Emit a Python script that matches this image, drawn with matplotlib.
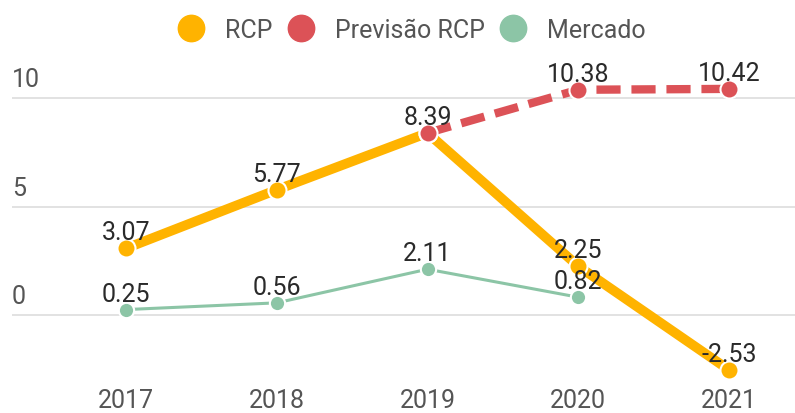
import matplotlib
matplotlib.use("Agg")
import matplotlib.pyplot as plt
from matplotlib.lines import Line2D
import numpy as np

plt.rcParams['font.family'] = ['Roboto', 'DejaVu Sans']

years = [2017, 2018, 2019, 2020, 2021]
rcp = [3.07, 5.77, 8.39, 2.25, -2.53]
prev_years = [2019, 2020, 2021]
prev_rcp = [8.39, 10.38, 10.42]
merc_years = [2017, 2018, 2019, 2020]
mercado = [0.25, 0.56, 2.11, 0.82]
yticks = [0, 5, 10]

c_rcp = '#FFB300'
c_prev = '#DC5257'
c_merc = '#8CC5A6'

W, H = 795, 414
fig = plt.figure(figsize=(W / 100, H / 100), dpi=100)
x0, x1 = 12, 795
y_top, y_bot = 60, 385
ax = fig.add_axes([x0 / W, 1 - y_bot / H, (x1 - x0) / W, (y_bot - y_top) / H])

ppu = 21.7
y0px = 316
ax.set_ylim(-(y_bot - y0px) / ppu, (y0px - y_top) / ppu)
pyr = 150.75
ax.set_xlim(2017 - (126 - x0) / pyr, 2021 + (x1 - 729) / pyr)

FS = 18
for s in ax.spines.values():
    s.set_visible(False)
ax.set_yticks([])
ax.set_xticks(years)
ax.set_xticklabels([str(y) for y in years], fontsize=FS, color='#555555')
ax.tick_params(axis='x', length=0, pad=3)

for t in yticks:
    ax.axhline(t, color='#dddddd', lw=1.2, zorder=0)
    ax.text(2017 - (126 - x0) / pyr, t + 0.3, str(t), fontsize=FS, color='#555555',
            ha='left', va='bottom')

ax.plot(merc_years, mercado, color=c_merc, lw=2.2, zorder=2,
        marker='o', ms=11, mec='white', mew=1.5, solid_capstyle='round')
ax.plot(years, rcp, color=c_rcp, lw=7, zorder=3, solid_capstyle='butt',
        marker='o', ms=13, mec='white', mew=1.5)
ax.plot(prev_years, prev_rcp, color=c_prev, lw=6, zorder=4, ls=(0, (2.9, 1.3)),
        marker='o', ms=13, mec='white', mew=1.5)

lab_kw = dict(fontsize=FS, color='#2a2a2a', ha='center', va='bottom', zorder=5)
off = 0.18
for x, v in zip(years, rcp):
    if x == 2019:
        continue
    ax.text(x, v + off, f'{v:.2f}', **lab_kw)
for x, v in zip(prev_years, prev_rcp):
    ax.text(x, v + off, f'{v:.2f}', **lab_kw)
for x, v in zip(merc_years, mercado):
    ax.text(x, v + off, f'{v:.2f}', **lab_kw)

handles = [Line2D([], [], ls='none', marker='o', ms=19, color=c) for c in (c_rcp, c_prev, c_merc)]
fig.legend(handles, ['RCP', 'Previsão RCP', 'Mercado'], loc='center',
           bbox_to_anchor=(412 / W, 1 - 31 / H), ncol=3, frameon=False,
           fontsize=FS, labelcolor='#555555', handletextpad=0.86, columnspacing=0.62,
           handlelength=1.0)

fig.savefig('out.png', dpi=100)
